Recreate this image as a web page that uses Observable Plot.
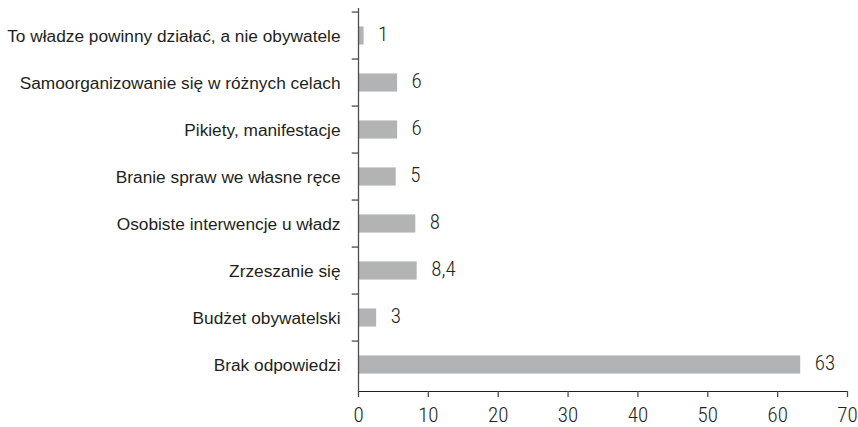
<!DOCTYPE html>
<html>
<head>
<meta charset="utf-8">
<script src="https://cdn.jsdelivr.net/npm/d3@7"></script>
<script src="https://cdn.jsdelivr.net/npm/@observablehq/plot@0.6"></script>
<style>
  html, body { margin: 0; padding: 0; background: #fff; }
  #chart svg { display: block; }
</style>
</head>
<body>
<div id="chart"></div>
<script>
const categories = [
  "To władze powinny działać, a nie obywatele",
  "Samoorganizowanie się w różnych celach",
  "Pikiety, manifestacje",
  "Branie spraw we własne ręce",
  "Osobiste interwencje u władz",
  "Zrzeszanie się",
  "Budżet obywatelski",
  "Brak odpowiedzi"
];
const values = [0.8, 5.6, 5.6, 5.4, 8.2, 8.4, 2.6, 63.3];
const valueLabels = ["1", "6", "6", "5", "8", "8,4", "3", "63"];
const xTicks = [0, 10, 20, 30, 40, 50, 60, 70];

const data = categories.map((c, i) => ({cat: c, value: values[i], label: valueLabels[i]}));

const W = 858, H = 427;
const mTop = 8, mBottom = 36, mLeft = 358, mRight = 11;
const step = (H - mTop - mBottom) / categories.length;
const barH = 19;
const inset = (step - barH) / 2;

const narrow = "Roboto, sans-serif";

const plot = Plot.plot({
  width: W,
  height: H,
  marginTop: mTop,
  marginBottom: mBottom,
  marginLeft: mLeft,
  marginRight: mRight,
  style: {fontFamily: "'Liberation Sans', Arial, sans-serif", color: "#231f20", background: "#fff"},
  x: {domain: [0, 70], ticks: xTicks, tickSize: 6, tickPadding: 10, line: true, label: null, tickFormat: d => String(d)},
  y: {domain: categories, padding: 0, tickSize: 0, tickPadding: 18, label: null},
  marks: [
    Plot.barX(data, {y: "cat", x: "value", fill: "#b2b3b5", insetTop: inset, insetBottom: inset}),
    Plot.ruleX([0], {stroke: "#4d4d4d", strokeWidth: 1.3}),
    Plot.ruleY(categories, {y: d => d, x1: -0.9, x2: 0, dy: -step / 2, stroke: "#4d4d4d", strokeWidth: 1.3}),
    Plot.text(data, {y: "cat", x: "value", text: "label", dx: 14, dy: -2, textAnchor: "start", fontSize: 21, fill: "#231f20", fontFamily: narrow, fontWeight: 300})
  ]
});

const svg = d3.select(plot);
svg.selectAll("g[aria-label='y-axis'] text, g[aria-label='y-axis tick label'] text").style("font-size", "17.3px");
svg.selectAll("g[aria-label='x-axis'] text, g[aria-label='x-axis tick label'] text")
  .style("font-size", "21px").style("font-family", narrow).style("font-weight", "300").style("font-stretch", "condensed");
svg.selectAll("g[aria-label='x-axis'] path, g[aria-label='x-axis tick'] path, g[aria-label='x-axis'] line").attr("stroke", "#4d4d4d").attr("stroke-width", 1.3);
svg.selectAll("g[aria-label='text'] text").style("font-stretch", "condensed");

document.getElementById("chart").appendChild(plot);
</script>
</body>
</html>
